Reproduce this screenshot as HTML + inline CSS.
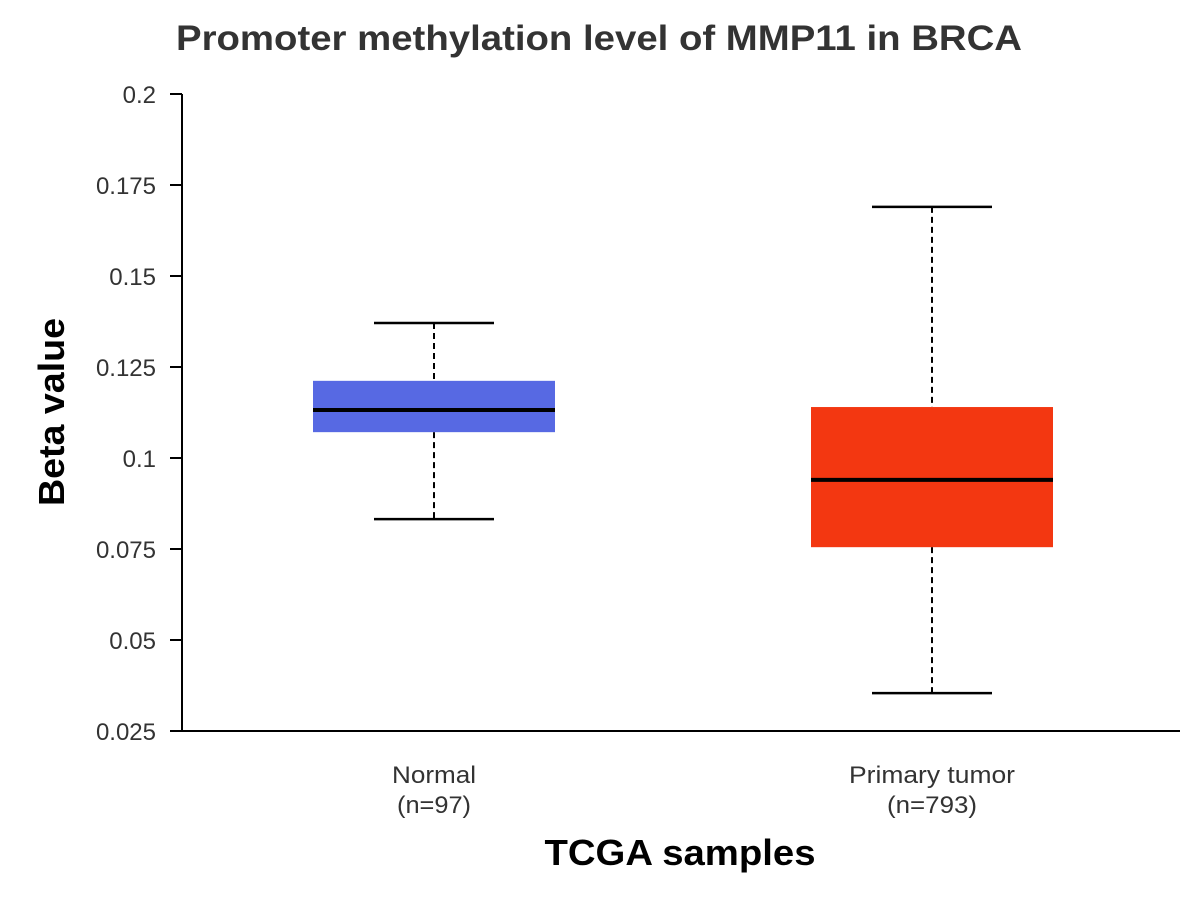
<!DOCTYPE html>
<html><head><meta charset="utf-8"><style>
html,body{margin:0;padding:0;background:#fff;}
svg{display:block;font-family:"Liberation Sans",Arial,sans-serif;}
</style></head><body>
<svg id="chart" width="1200" height="900" viewBox="0 0 1200 900">
<text x="599" y="50" text-anchor="middle" font-size="35" font-weight="bold" fill="#333" textLength="846" lengthAdjust="spacingAndGlyphs">Promoter methylation level of MMP11 in BRCA</text>
<g id="axes"></g>
<g id="boxes"></g>
<text transform="translate(64,412) rotate(-90)" text-anchor="middle" font-size="36" font-weight="bold" fill="#000" textLength="188" lengthAdjust="spacingAndGlyphs">Beta value</text>
<text x="680" y="865" text-anchor="middle" font-size="36" font-weight="bold" fill="#000" textLength="271" lengthAdjust="spacingAndGlyphs">TCGA samples</text>
</svg>
<script>
const categories = ["Normal", "Primary tumor"];
const counts = ["(n=97)", "(n=793)"];
const colors = ["#5769e3", "#f33711"];
const mins = [0.0832, 0.0354];
const q1s = [0.1071, 0.0755];
const medians = [0.1132, 0.0940];
const q3s = [0.1212, 0.1140];
const maxs = [0.1371, 0.1690];
const yTicks = [0.025, 0.05, 0.075, 0.1, 0.125, 0.15, 0.175, 0.2];
const yTickLabels = ["0.025", "0.05", "0.075", "0.1", "0.125", "0.15", "0.175", "0.2"];

const NS = "http://www.w3.org/2000/svg";
const y0 = 731, y1 = 94, vmin = 0.025, vmax = 0.2;
function yScale(v){ return y0 - (v - vmin) / (vmax - vmin) * (y0 - y1); }
function xScale(i){ return 434 + i * 498; }
function mk(tag, attrs, parent){ const e = document.createElementNS(NS, tag); for (const k in attrs) e.setAttribute(k, attrs[k]); parent.appendChild(e); return e; }

const axes = document.getElementById("axes");
let el = mk("line", {x1:182, y1:94, x2:182, y2:731, stroke:"#000", "stroke-width":2}, axes);


el = mk("line", {x1:182, y1:731, x2:1180, y2:731, stroke:"#000", "stroke-width":2}, axes);


yTicks.forEach((t, i) => {
  const y = yScale(t);
  const tk = mk("line", {x1:170, y1:y, x2:182, y2:y, stroke:"#000", "stroke-width":2}, axes);
  
  
  const lb = mk("text", {x:156, y:y + 9, "text-anchor":"end", "font-size":24, fill:"#333"}, axes);
  lb.textContent = yTickLabels[i];
  
  
});

const labelW = [84, 166];
const countW = [74, 90];
const boxes = document.getElementById("boxes");
categories.forEach((c, i) => {
  const cx = xScale(i), hw = 121, cw = 60;
  const g = mk("g", {}, boxes);
  
  
  mk("line", {x1:cx, y1:yScale(maxs[i]), x2:cx, y2:yScale(q3s[i]), stroke:"#000", "stroke-width":2, "stroke-dasharray":"6,4"}, g);
  mk("line", {x1:cx, y1:yScale(q1s[i]), x2:cx, y2:yScale(mins[i]), stroke:"#000", "stroke-width":2, "stroke-dasharray":"6,4"}, g);
  mk("line", {x1:cx - cw, y1:yScale(maxs[i]), x2:cx + cw, y2:yScale(maxs[i]), stroke:"#000", "stroke-width":2.5}, g);
  mk("line", {x1:cx - cw, y1:yScale(mins[i]), x2:cx + cw, y2:yScale(mins[i]), stroke:"#000", "stroke-width":2.5}, g);
  mk("rect", {x:cx - hw, y:yScale(q3s[i]), width:hw * 2, height:yScale(q1s[i]) - yScale(q3s[i]), fill:colors[i]}, g);
  mk("line", {x1:cx - hw, y1:yScale(medians[i]), x2:cx + hw, y2:yScale(medians[i]), stroke:"#000", "stroke-width":4}, g);
  const t1 = mk("text", {x:cx, y:783, "text-anchor":"middle", "font-size":24, fill:"#333", textLength:labelW[i], lengthAdjust:"spacingAndGlyphs"}, boxes);
  t1.textContent = c;
  
  
  const t2 = mk("text", {x:cx, y:813, "text-anchor":"middle", "font-size":24, fill:"#333", textLength:countW[i], lengthAdjust:"spacingAndGlyphs"}, boxes);
  t2.textContent = counts[i];
  
  
});
</script>
</body></html>
